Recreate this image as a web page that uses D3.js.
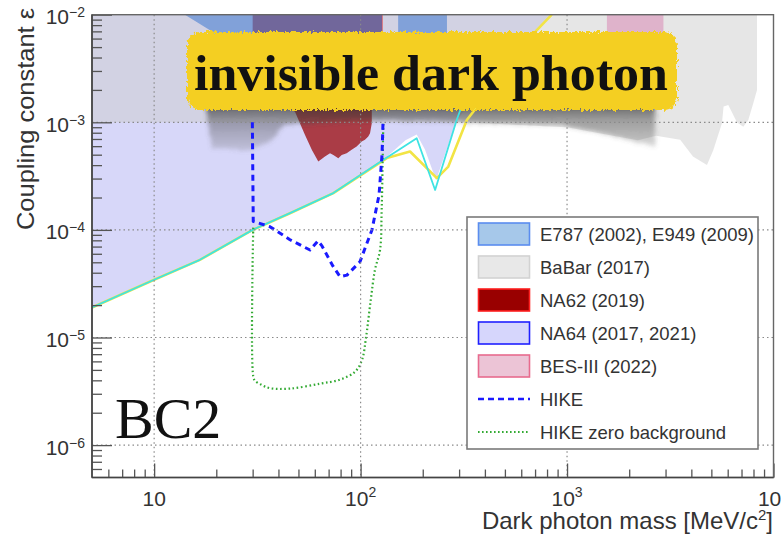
<!DOCTYPE html>
<html>
<head>
<meta charset="utf-8">
<script src="https://cdn.jsdelivr.net/npm/d3@7"></script>
<style>
  body { margin: 0; background: #fff; }
  svg { display: block; }
</style>
</head>
<body>
<svg id="chart" width="781" height="539"></svg>
<script>
// ---- axis domains and ticks ----
const massDomain = [5, 10000];          // MeV/c^2
const epsDomain  = [5e-7, 1e-2];
const xMajorTicks = [10, 100, 1000, 10000];
const xTickExponents = ["", "2", "3", "4"];
const yMajorTicks = [1e-6, 1e-5, 1e-4, 1e-3, 1e-2];
const yTickExponents = ["\u22126", "\u22125", "\u22124", "\u22123", "\u22122"];

// ---- excluded regions: [mass, epsilon] ----
const na64Edge = [[5,1.9e-5],[10,3.44e-5],[16.65,5.27e-5],[30,1e-4],[45.5,1.43e-4],[73.8,2.2e-4],
  [129,4.48e-4],[165,6.8e-4],[187,7.7e-4],[205,5.6e-4],[232,2.9e-4],[292,1.05e-3],[340,1.5e-3],
  [714,7.2e-3],[843,1e-2]];
const babarEdge = [[5,1.0e-3],[100,1.0e-3],[300,1.0e-3],[1000,9e-4],[1500,7.8e-4],[2200,6.8e-4],
  [2700,7.5e-4],[3533,6.9e-4],[4074,4.8e-4],[4760,4.0e-4],[5107,5.5e-4],[5627,9.8e-4],[5730,1.4e-3],
  [6040,1.45e-3],[6652,1.0e-3],[7140,9.1e-4],[7550,1.05e-3],[7980,1.5e-3],[8318,2e-3],[8318,1e-2]];
const na62Region = [[30,1e-2],[30,2.5e-3],[40,1.6e-3],[48.1,1.256e-3],[53.8,7.64e-4],[58.1,5.54e-4],
  [62.4,4.32e-4],[67.2,4.81e-4],[71.1,5.17e-4],[73.8,4.98e-4],[78,4.64e-4],[81,4.98e-4],[85.6,5.16e-4],
  [90.5,5.55e-4],[95.7,5.95e-4],[101.2,6.62e-4],[105,6.87e-4],[108.9,7.37e-4],[111.1,7.92e-4],
  [113.3,9.8e-4],[113.3,1.4e-3],[127,2.2e-3],[127,1e-2]];
const e787LowMass = [[14.1,1e-2],[19.25,6.9e-3],[25,4e-3],[30,2.6e-3],[60,2.2e-3],[127,2.2e-3],[127,1e-2]];
const e949HighMass = [[152,1e-2],[152,2.6e-3],[262,2.6e-3],[262,1e-2]];
const besRegion = [[1560,1e-2],[1560,2.4e-3],[2930,2.4e-3],[2930,1e-2]];

// shade cast below the title banner
const bannerShadeEdge = [[17.6,2.5e-3],[17.6,1.6e-3],[18.5,8e-4],[19.05,5.8e-4],[29.1,5.5e-4],
  [36.4,6.6e-4],[43,9.5e-4],[124,1.05e-3],[303,1.0e-3],[927,9.5e-4],[1449,8e-4],[2265,6.4e-4],
  [2674,6e-4],[2674,2.5e-3]];

// ---- limit curves ----
const cyanCurve = [[5,1.9e-5],[10,3.44e-5],[16.65,5.27e-5],[30,1e-4],[45.5,1.43e-4],[73.8,2.2e-4],
  [129,4.48e-4],[187,7.1e-4],[229.6,2.35e-4],[292,1.05e-3],[330,2.0e-3],[380,4.0e-3]];
const yellowCurve = [[5,1.9e-5],[10,3.44e-5],[16.65,5.27e-5],[30,1e-4],[45.5,1.43e-4],[73.8,2.2e-4],
  [134,4.65e-4],[173.6,5.35e-4],[234,3.03e-4],[266,3.88e-4],[327,1.05e-3],[714,7.2e-3],[843,1e-2]];
const hikeCurve = [[29.9,1e-3],[30.2,1.2e-4],[36.4,1.07e-4],[45.5,8.1e-5],[56.9,6.5e-5],[62.2,7.9e-5],
  [65,7.1e-5],[73.5,4.6e-5],[79.5,3.67e-5],[85.9,3.8e-5],[99.3,5.06e-5],[113.5,1e-4],[122.8,2.1e-4],
  [127,5e-4],[128.4,1e-3]];
const hikeZeroBkgCurve = [[30.2,1.05e-4],[30.2,4.35e-6],[30.8,3.97e-6],[33.3,3.61e-6],[36.4,3.38e-6],
  [45.5,3.35e-6],[63.5,3.72e-6],[79.5,4.06e-6],[94,4.81e-6],[101.6,6.2e-6],[106.2,9.95e-6],[112,2.24e-5],
  [117.4,4.27e-5],[124.2,6.5e-5],[126.5,1.54e-4],[127.9,4.48e-4],[128.8,1e-3]];

// ---- legend ----
const legendLabels = ["E787 (2002), E949 (2009)", "BaBar (2017)", "NA62 (2019)", "NA64 (2017, 2021)",
  "BES-III (2022)", "HIKE", "HIKE zero background"];
const legendKinds = ["box","box","box","box","box","dash","dot"];
const legendFills = ["#a6c8ea","#e8e8e8","#990000","#d6d6fc","#ecc4d6","#1a1aff","#33aa33"];
const legendStrokes = ["#5b8def","#d2d2d2","#ff2020","#2020ff","#e86b8e","#1a1aff","#33aa33"];

const titleText = "invisible dark photon";
const tagText = "BC2";

// ---------------------------------------------------------------
const svg = d3.select("#chart");
const plot = { left: 92, right: 773.5, top: 14.7, bottom: 477.5 };
const x = d3.scaleLog().domain(massDomain).range([plot.left, plot.right]);
const y = d3.scaleLog().domain(epsDomain).range([plot.bottom, plot.top]);
const sans = "'Liberation Sans', Arial, Helvetica, sans-serif";
const serif = "'Liberation Serif', 'Times New Roman', serif";

const defs = svg.append("defs");
defs.append("clipPath").attr("id", "plotClip").append("rect")
  .attr("x", plot.left).attr("y", plot.top)
  .attr("width", plot.right - plot.left).attr("height", plot.bottom - plot.top);

const rough = defs.append("filter").attr("id", "rough")
  .attr("x", "-5%").attr("y", "-25%").attr("width", "110%").attr("height", "150%");
rough.append("feTurbulence").attr("type", "fractalNoise").attr("baseFrequency", "0.45 0.3")
  .attr("numOctaves", 2).attr("seed", 4).attr("result", "noise");
rough.append("feDisplacementMap").attr("in", "SourceGraphic").attr("in2", "noise")
  .attr("scale", 7).attr("xChannelSelector", "R").attr("yChannelSelector", "G");

const shadeFilter = defs.append("filter").attr("id", "shade")
  .attr("x", "-10%").attr("y", "-30%").attr("width", "120%").attr("height", "160%");
shadeFilter.append("feTurbulence").attr("type", "fractalNoise").attr("baseFrequency", "0.5 0.35")
  .attr("numOctaves", 2).attr("seed", 9).attr("result", "noise");
shadeFilter.append("feDisplacementMap").attr("in", "SourceGraphic").attr("in2", "noise")
  .attr("scale", 6).attr("xChannelSelector", "R").attr("yChannelSelector", "G").attr("result", "d");
shadeFilter.append("feGaussianBlur").attr("in", "d").attr("stdDeviation", 2.2);

const grad = defs.append("linearGradient").attr("id", "shadeGrad")
  .attr("gradientUnits", "userSpaceOnUse").attr("x1", 0).attr("x2", 0).attr("y1", 104).attr("y2", 150);
grad.append("stop").attr("offset", 0).attr("stop-color", "#2a2a2a").attr("stop-opacity", 0.72);
grad.append("stop").attr("offset", 0.35).attr("stop-color", "#444").attr("stop-opacity", 0.45);
grad.append("stop").attr("offset", 1).attr("stop-color", "#666").attr("stop-opacity", 0.22);

const poly = d3.line().x(d => x(d[0])).y(d => y(d[1]));
const regionPath = pts => poly(pts) + "Z";

const regions = svg.append("g").attr("clip-path", "url(#plotClip)");

// NA64
regions.append("path").attr("d", regionPath([[massDomain[0], epsDomain[1]], ...na64Edge]))
  .attr("fill", "#d7d7f9");
// BaBar
regions.append("path").attr("d", regionPath([[massDomain[0], epsDomain[1]], ...babarEdge]))
  .attr("fill", "#cdcdcd").attr("fill-opacity", 0.5);
// NA62
regions.append("path").attr("d", regionPath(na62Region))
  .attr("fill", "#990000").attr("fill-opacity", 0.72);
regions.append("line").attr("x1", x(127)).attr("x2", x(127)).attr("y1", y(1e-2)).attr("y2", y(2.2e-3))
  .attr("stroke", "#e01818").attr("stroke-opacity", 0.7).attr("stroke-width", 1.2);
// E787 / E949
[e787LowMass, e949HighMass].forEach(r => {
  regions.append("path").attr("d", regionPath(r))
    .attr("fill", "#4f82d4").attr("fill-opacity", 0.62);
});
// BES-III
regions.append("path").attr("d", regionPath(besRegion))
  .attr("fill", "#dc9fc0").attr("fill-opacity", 0.72);
// shade under the banner
regions.append("path").attr("d", regionPath(bannerShadeEdge))
  .attr("fill", "url(#shadeGrad)").attr("filter", "url(#shade)");

// limit curves
const curve = d3.line().x(d => x(d[0])).y(d => y(d[1]));
regions.append("path").attr("d", curve(yellowCurve)).attr("fill", "none")
  .attr("stroke", "#f2e444").attr("stroke-width", 2.6).attr("stroke-linejoin", "round");
regions.append("path").attr("d", curve(cyanCurve)).attr("fill", "none")
  .attr("stroke", "#3fe3e3").attr("stroke-width", 1.8).attr("stroke-linejoin", "round");

// grid
const grid = svg.append("g").attr("stroke", "#8a8a8a").attr("stroke-width", 1.2)
  .attr("stroke-dasharray", "1.5,3");
xMajorTicks.filter(v => v < massDomain[1]).forEach(v => {
  grid.append("line").attr("x1", x(v)).attr("x2", x(v)).attr("y1", plot.top).attr("y2", plot.bottom);
});
yMajorTicks.filter(v => v < epsDomain[1]).forEach(v => {
  grid.append("line").attr("x1", plot.left).attr("x2", plot.right).attr("y1", y(v)).attr("y2", y(v));
});

// HIKE curves
regions.append("path").attr("d", d3.line().x(d => x(d[0])).y(d => y(d[1]))
    .curve(d3.curveCatmullRom.alpha(0.5))(hikeZeroBkgCurve))
  .attr("fill", "none").attr("stroke", "#33aa33").attr("stroke-width", 2.2)
  .attr("stroke-dasharray", "1.6,2.6").attr("stroke-linecap", "butt");
regions.append("path").attr("d", curve(hikeCurve))
  .attr("fill", "none").attr("stroke", "#1a1aff").attr("stroke-width", 3)
  .attr("stroke-dasharray", "6,4.5").attr("stroke-linejoin", "round");

// axes (inward ticks)
const xMinor = [], yMinor = [];
[1, 10, 100, 1000].forEach(d => d3.range(2, 10).forEach(k => {
  const v = k * d; if (v > massDomain[0] && v < massDomain[1]) xMinor.push(v);
}));
[1e-7, 1e-6, 1e-5, 1e-4, 1e-3].forEach(d => d3.range(2, 10).forEach(k => {
  const v = k * d; if (v > epsDomain[0] && v < epsDomain[1]) yMinor.push(v);
}));
const axisColor = "#555";
function styleAxis(g) {
  g.select(".domain").remove();
  g.selectAll("line").attr("stroke", axisColor).attr("stroke-width", 1.3);
  g.selectAll("text").remove();
}
svg.append("g").attr("transform", `translate(0,${plot.bottom})`)
  .call(d3.axisBottom(x).tickValues(xMajorTicks).tickSize(-14)).call(styleAxis);
svg.append("g").attr("transform", `translate(0,${plot.bottom})`)
  .call(d3.axisBottom(x).tickValues(xMinor).tickSize(-8)).call(styleAxis);
svg.append("g").attr("transform", `translate(${plot.left},0)`)
  .call(d3.axisLeft(y).tickValues(yMajorTicks).tickSize(-20)).call(styleAxis);
svg.append("g").attr("transform", `translate(${plot.left},0)`)
  .call(d3.axisLeft(y).tickValues(yMinor).tickSize(-10)).call(styleAxis);

// frame
svg.append("rect").attr("x", plot.left).attr("y", plot.top)
  .attr("width", plot.right - plot.left).attr("height", plot.bottom - plot.top)
  .attr("fill", "none").attr("stroke", "#666").attr("stroke-width", 1.4);
svg.append("line").attr("x1", plot.left).attr("x2", plot.left).attr("y1", plot.top).attr("y2", plot.bottom)
  .attr("stroke", "#444").attr("stroke-width", 1.6);
svg.append("line").attr("x1", plot.left).attr("x2", plot.right).attr("y1", plot.bottom).attr("y2", plot.bottom)
  .attr("stroke", "#444").attr("stroke-width", 1.6);

// tick labels
const labels = svg.append("g").attr("font-family", sans).attr("fill", "#333");
yMajorTicks.forEach((v, i) => {
  const t = labels.append("text").attr("x", 85).attr("y", y(v) + 9.5)
    .attr("text-anchor", "end").attr("font-size", 21);
  t.append("tspan").text("10");
  t.append("tspan").attr("font-size", 14).attr("dy", -7).text(yTickExponents[i]);
});
xMajorTicks.forEach((v, i) => {
  const t = labels.append("text").attr("x", x(v)).attr("y", 506)
    .attr("text-anchor", "middle").attr("font-size", 21);
  t.append("tspan").text("10");
  if (xTickExponents[i]) t.append("tspan").attr("font-size", 14).attr("dy", -9).text(xTickExponents[i]);
});

// axis titles
const xt = labels.append("text").attr("x", 773).attr("y", 529).attr("text-anchor", "end")
  .attr("font-size", 24);
xt.append("tspan").text("Dark photon mass [MeV/c");
xt.append("tspan").attr("font-size", 15).attr("dy", -9).text("2");
xt.append("tspan").attr("dy", 9).text("]");
labels.append("text").attr("transform", "translate(34,8) rotate(-90)")
  .attr("text-anchor", "end").attr("font-size", 24).attr("textLength", 222)
  .attr("lengthAdjust", "spacingAndGlyphs").text("Coupling constant \u03b5");

// legend
const lg = svg.append("g").attr("font-family", sans);
lg.append("rect").attr("x", 467).attr("y", 217).attr("width", 291).attr("height", 232)
  .attr("fill", "#fff").attr("stroke", "#7a7a7a").attr("stroke-width", 1.6);
const rowY = d3.scalePoint().domain(d3.range(legendLabels.length)).range([234, 432]);
legendLabels.forEach((lab, i) => {
  const cy = rowY(i);
  if (legendKinds[i] === "box") {
    lg.append("rect").attr("x", 478.5).attr("y", cy - 11).attr("width", 51).attr("height", 22)
      .attr("fill", legendFills[i]).attr("stroke", legendStrokes[i]).attr("stroke-width", 1.6);
  } else {
    lg.append("line").attr("x1", 478).attr("x2", 530).attr("y1", cy).attr("y2", cy)
      .attr("stroke", legendStrokes[i])
      .attr("stroke-width", legendKinds[i] === "dash" ? 2.6 : 2)
      .attr("stroke-dasharray", legendKinds[i] === "dash" ? "6,4" : "1.6,2.4");
  }
  lg.append("text").attr("x", 540).attr("y", cy + 6.5).attr("font-size", 18.5)
    .attr("fill", "#333").text(lab);
});

// title banner
const banner = svg.append("g");
banner.append("rect").attr("x", 187).attr("y", 32).attr("width", 490).attr("height", 78)
  .attr("rx", 13).attr("fill", "#f4cf24").attr("filter", "url(#rough)");
banner.append("text").attr("x", 194).attr("y", 90).attr("font-family", serif)
  .attr("font-weight", "bold").attr("font-size", 50).attr("fill", "#111")
  .attr("textLength", 474).attr("lengthAdjust", "spacingAndGlyphs").text(titleText);

// scenario tag
svg.append("text").attr("x", 115).attr("y", 438).attr("font-family", serif)
  .attr("font-size", 58).attr("fill", "#111").text(tagText);
</script>
</body>
</html>
